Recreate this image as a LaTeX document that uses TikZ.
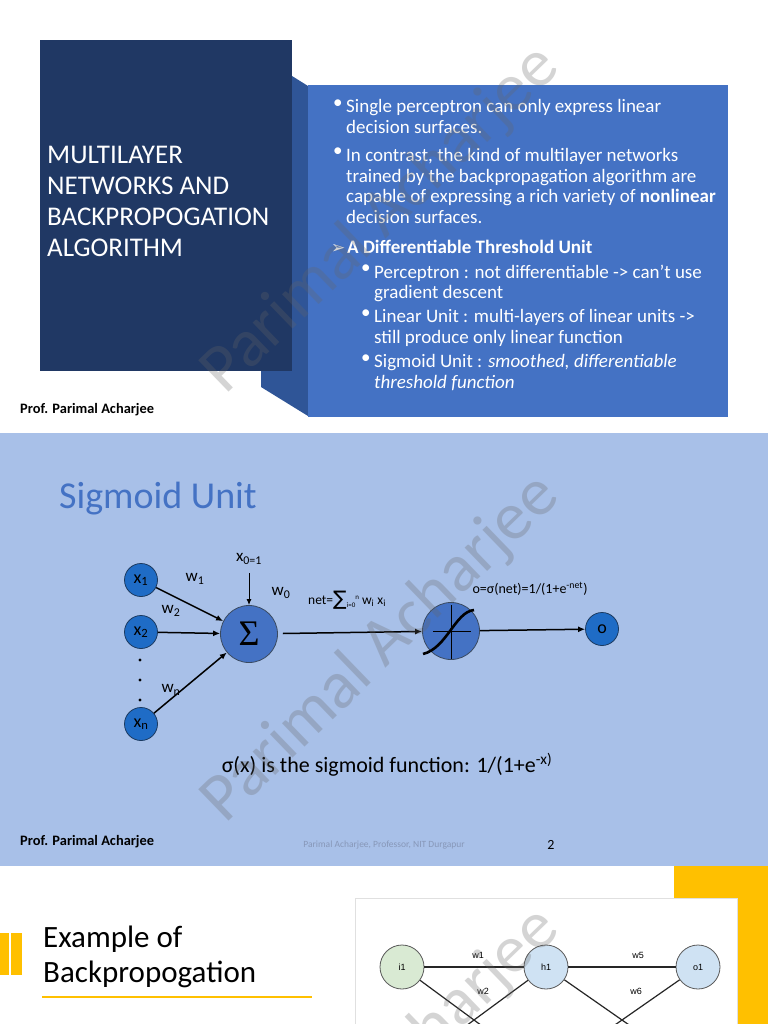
\documentclass[tikz,border=0pt]{standalone}
\usepackage{fontspec}
\setmainfont{Carlito}
\newfontfamily\symfont{DejaVu Sans}
\newfontfamily\arialfont{Liberation Sans}
\newfontfamily\timesfont{Liberation Serif}
\usetikzlibrary{positioning,arrows.meta}
\definecolor{navybox}{HTML}{203864}
\definecolor{foldblue}{HTML}{2F5597}
\definecolor{accentblue}{HTML}{4472C4}
\definecolor{slideblue}{HTML}{A8C0E8}
\definecolor{inblue}{HTML}{1F6CC6}
\definecolor{ringnavy}{HTML}{1B3A60}
\definecolor{ringgray}{HTML}{3A4A60}
\definecolor{gold}{HTML}{FFC000}
\definecolor{mutedtext}{HTML}{8797B8}
\definecolor{greennode}{HTML}{D9EAD3}
\definecolor{bluenode}{HTML}{CFE2F3}

\begin{document}
\begin{tikzpicture}[x=1pt,y=-1pt,>=Latex,
  innode/.style={circle,draw=ringnavy,line width=0.8pt,fill=inblue,minimum size=33pt,inner sep=0pt,font=\fontsize{18}{18}\selectfont},
  unit/.style={circle,draw=ringgray,line width=0.8pt,fill=accentblue,minimum size=57pt,inner sep=0pt},
  wlabel/.style={inner sep=0pt,font=\fontsize{17}{17}\selectfont},
  feed/.style={-{Latex[length=7pt,width=6pt]},line width=1.5pt},
  wmark/.style={rotate=44,text=black!60,opacity=0.28,inner sep=0pt,font=\fontsize{68}{68}\selectfont},
  para/.style={anchor=north west,align=left,inner sep=0pt,text=white,font=\fontsize{19}{20.7}\selectfont},
  prof/.style={anchor=base west,inner sep=0pt,font=\bfseries\fontsize{14.4}{14.4}\selectfont},
  neuron/.style={circle,draw=black!65,line width=0.8pt,minimum size=44pt,inner sep=0pt,font=\arialfont\fontsize{9}{9}\selectfont},
  link/.style={line width=1.2pt,draw=black!85},
  small/.style={inner sep=0pt,font=\arialfont\fontsize{9}{9}\selectfont}]
  \useasboundingbox (0,0) rectangle (768,1024);
  \fill[white] (0,0) rectangle (768,1024);

  % slide 1
  \fill[navybox] (40,40) rectangle (292,371);
  \fill[foldblue] (292,76) -- (308,86) -- (308,416) -- (261,387) -- (261,371) -- (292,371) -- cycle;
  \fill[accentblue] (308,85) rectangle (728,417);
  \node[anchor=north west,align=left,inner sep=0pt,text=white,font=\fontsize{27}{31}\selectfont] (title) at (47,145.5)
    {MULTILAYER\\NETWORKS AND\\BACKPROPOGATION\\ALGORITHM};
  \node[para] (b1) at (333,99.5) {•};
  \node[para] (p1) at (346,99.5) {Single perceptron can only express linear\\decision surfaces.};
  \node[para] (b2) at (333,148) {•};
  \node[para] (p2) at (346,148) {In contrast, the kind of multilayer networks\\trained by the backpropagation algorithm are\\capable of expressing a rich variety of \textbf{nonlinear}\\decision surfaces.};
  \node[anchor=base west,inner sep=0pt,text=white,font=\symfont\fontsize{17}{17}\selectfont] (b3) at (331,253) {➢};
  \node[para,font=\bfseries\fontsize{19}{20.7}\selectfont] (p3) at (347,239.5) {A Differentiable Threshold Unit};
  \node[para] (b4) at (361,264.5) {•};
  \node[para] (p4) at (374,264.5) {Perceptron : not differentiable -> can’t use\\gradient descent};
  \node[para] (b5) at (361,309.5) {•};
  \node[para] (p5) at (374,309.5) {Linear Unit : multi-layers of linear units ->\\still produce only linear function};
  \node[para] (b6) at (361,354.5) {•};
  \node[para] (p6) at (374,354.5) {Sigmoid Unit : \textit{smoothed, differentiable}\\\textit{threshold function}};
  \node[prof] (prof1) at (20,413) {Prof. Parimal Acharjee};
  \node[wmark] (wm1) at (381,220) {Parimal Acharjee};

  % slide 2
  \fill[slideblue] (0,433) rectangle (768,866);
  \node[anchor=base west,inner sep=0pt,text=accentblue,font=\fontsize{38}{38}\selectfont] (head2) at (59,508) {Sigmoid Unit};
  \node[innode] (x1) at (141,580) {x\textsubscript{1}};
  \node[innode] (x2) at (141,632) {x\textsubscript{2}};
  \node[innode] (xn) at (141,724) {x\textsubscript{n}};
  \foreach \y in {660,680,700} \fill (140,\y) circle (1.6pt);
  \node[unit,font=\timesfont\fontsize{36}{36}\selectfont] (sum) at (249,634) {Σ};
  \node[unit] (sig) at (451,631) {};
  \node[innode] (out) at (602,629) {o};
  \node[wlabel] (x0) at (249,559) {x\textsubscript{0=1}};
  \node[wlabel] (w1) at (195,579) {w\textsubscript{1}};
  \node[wlabel] (w2) at (171,611) {w\textsubscript{2}};
  \node[wlabel] (wn) at (171,690) {w\textsubscript{n}};
  \node[wlabel] (w0) at (281,593) {w\textsubscript{0}};
  \node[anchor=base west,inner sep=0pt,font=\fontsize{13.5}{13.5}\selectfont] (net) at (308,604)
    {net=\raisebox{-1pt}{\symfont\fontsize{20}{20}\selectfont ∑}\raisebox{-3pt}{\fontsize{7}{7}\selectfont i=0}\raisebox{5pt}{\fontsize{7}{7}\selectfont n} w\textsubscript{i} x\textsubscript{i}};
  \node[inner sep=0pt,font=\fontsize{14}{14}\selectfont] (act) at (530,589) {o=σ(net)=1/(1+e\textsuperscript{-net})};
  \draw[feed] (x1) -- (sum);
  \draw[feed] (x2) -- (sum);
  \draw[feed] (xn) -- (sum);
  \draw[-{Latex[length=6pt,width=5pt]},line width=1pt] (x0) ++(0,14) coordinate (x0tip) -- (sum);
  \draw[feed,shorten <=5pt] (sum) -- (sig);
  \draw[feed] (sig) -- (out);
  % sigmoid sketch inside the unit
  \draw[line width=0.9pt] (433,631) -- (471,631);
  \draw[line width=0.9pt] (451,605) -- (451,659);
  \draw[line width=2.6pt] (423,654) .. controls (447,648) and (455,612) .. (474,610);
  \node[anchor=base,inner sep=0pt,font=\fontsize{22}{22}\selectfont] (sigdef) at (387,772) {σ(x) is the sigmoid function: 1/(1+e\textsuperscript{-x)}};
  \node[prof] (prof2) at (20,845) {Prof. Parimal Acharjee};
  \node[inner sep=0pt,text=mutedtext,font=\fontsize{9.5}{9.5}\selectfont] (foot) at (384,845) {Parimal Acharjee, Professor, NIT Durgapur};
  \node[inner sep=0pt,font=\fontsize{14}{14}\selectfont] (page) at (551,845) {2};
  \node[wmark] (wm2) at (381,649) {Parimal Acharjee};

  % slide 3 (cut off)
  \fill[gold] (674,866) rectangle (768,898);
  \fill[gold] (737,898) rectangle (768,1024);
  \draw[black!12,fill=white] (355,1030) -- (355,898) -- (737,898) -- (737,1030);
  \fill[gold] (0,933) rectangle (9,975);
  \fill[gold] (11,933) rectangle (22,975);
  \node[anchor=base west,inner sep=0pt,font=\fontsize{31}{35}\selectfont] (head3a) at (43,947) {Example of};
  \node[anchor=base west,inner sep=0pt,font=\fontsize{31}{35}\selectfont] (head3b) at (43,982) {Backpropogation};
  \draw[gold,line width=2.5pt] (42,997) -- (312,997);
  \node[neuron,fill=greennode] (i1) at (402,967) {i1};
  \node[neuron,fill=bluenode] (h1) at (546,967) {h1};
  \node[neuron,fill=bluenode] (o1) at (698,967) {o1};
  \coordinate (i2) at (402,1073);
  \coordinate (h2) at (546,1073);
  \coordinate (o2) at (698,1073);
  \draw[link,line width=1.6pt] (i1) -- (h1);
  \draw[link,line width=1.6pt] (h1) -- (o1);
  \draw[link] (i1) -- (h2);
  \draw[link] (i2) -- (h1);
  \draw[link] (h1) -- (o2);
  \draw[link] (h2) -- (o1);
  \node[small] (lw1) at (478,955) {w1};
  \node[small] (lw2) at (483,991) {w2};
  \node[small] (lw5) at (638,955) {w5};
  \node[small] (lw6) at (636,991) {w6};
  \node[wmark] (wm3) at (381,1082) {Parimal Acharjee};
\end{tikzpicture}
\end{document}
